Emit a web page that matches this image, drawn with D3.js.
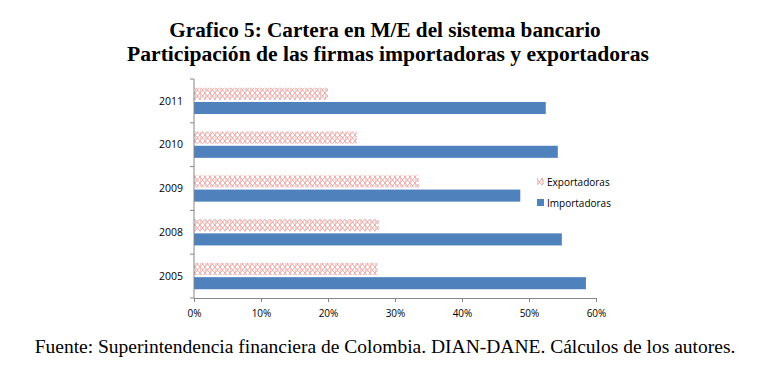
<!DOCTYPE html>
<html><head><meta charset="utf-8">
<script src="https://cdn.jsdelivr.net/npm/d3@7"></script>
<style>body{margin:0;background:#fff}</style>
</head><body><div id="chart"></div>
<script>
const categories = ["2011","2010","2009","2008","2005"];
const exportadoras = [0.200, 0.243, 0.336, 0.276, 0.274];
const importadoras = [0.525, 0.543, 0.487, 0.549, 0.585];
const seriesNames = ["Exportadoras","Importadoras"];
const xTicks = [0,0.1,0.2,0.3,0.4,0.5,0.6];
const titleLines = ["Grafico 5: Cartera en M/E del sistema bancario","Participación de las firmas importadoras y exportadoras"];
const source = "Fuente: Superintendencia financiera de Colombia. DIAN-DANE. Cálculos de los autores.";

const W=764,H=372;
const svg=d3.select("#chart").append("svg").attr("width",W).attr("height",H);
const defs=svg.append("defs");
const pat=defs.append("pattern").attr("id","hatch").attr("patternUnits","userSpaceOnUse")
  .attr("width",5).attr("height",6);
pat.append("rect").attr("width",5).attr("height",6).attr("fill","#fff");
pat.append("path").attr("d","M2.5,0 L5,3 L2.5,6 L0,3 Z").attr("fill","none").attr("stroke","#e58a88").attr("stroke-width",0.8);
pat.append("line").attr("x1",0.4).attr("x2",0.4).attr("y1",0).attr("y2",6).attr("stroke","#f0b8b6").attr("stroke-width",0.8);

const pLeft=194,pRight=596,pTop=79,pBottom=298;
const x=d3.scaleLinear().domain([0,0.6]).range([pLeft,pRight]);
const y=d3.scaleBand().domain(categories).range([pTop,pBottom]).paddingInner(0.4).paddingOuter(0.2);
const sub=d3.scaleBand().domain(seriesNames).range([0,y.bandwidth()]).paddingInner(0.15);

// titles
svg.selectAll("text.title").data(titleLines).join("text").attr("class","title")
  .attr("x",(d,i)=>i===0?385:388).attr("y",(d,i)=>37+i*24).attr("text-anchor","middle")
  .attr("font-family","Liberation Serif").attr("font-weight","bold").attr("font-size",(d,i)=>i===0?21.2:21.6)
  .attr("fill","#000").text(d=>d);

// bars
const g=svg.append("g");
g.selectAll("rect.exp").data(categories).join("rect").attr("class","exp")
  .attr("x",x(0)).attr("y",(d)=>y(d)+sub("Exportadoras"))
  .attr("width",(d,i)=>x(exportadoras[i])-x(0)).attr("height",sub.bandwidth())
  .attr("fill","url(#hatch)");
g.selectAll("rect.imp").data(categories).join("rect").attr("class","imp")
  .attr("x",x(0)).attr("y",(d)=>y(d)+sub("Importadoras"))
  .attr("width",(d,i)=>x(importadoras[i])-x(0)).attr("height",sub.bandwidth())
  .attr("fill","#4f81bd");

// axes
const axisColor="#868686";
const xa=svg.append("g").attr("transform",`translate(0,${pBottom})`)
  .call(d3.axisBottom(x).tickValues(xTicks).tickFormat(d3.format(".0%")).tickSize(4).tickSizeOuter(0));
xa.select(".domain").attr("stroke",axisColor);
xa.selectAll(".tick line").attr("stroke",axisColor);
xa.selectAll("text").attr("font-family","Open Sans").attr("font-size",10).attr("fill","#000").attr("dy","1.2em");

const ya=svg.append("g").attr("transform",`translate(${pLeft},0)`);
ya.append("line").attr("x1",0).attr("x2",0).attr("y1",pTop).attr("y2",pBottom).attr("stroke",axisColor);
const bounds=categories.map(c=>y(c)-y.step()*y.paddingInner()/2).concat([pBottom]);
ya.selectAll("line.t").data(bounds).join("line").attr("class","t")
  .attr("x1",-4).attr("x2",0).attr("y1",d=>d).attr("y2",d=>d).attr("stroke",axisColor);
ya.selectAll("text").data(categories).join("text")
  .attr("x",-11).attr("y",d=>y(d)+y.bandwidth()/2).attr("dy","0.35em")
  .attr("text-anchor","end").attr("font-family","Open Sans").attr("font-size",10.5).attr("fill","#000").text(d=>d);

// legend
const lg=svg.append("g").attr("transform","translate(537,182)");
const items=lg.selectAll("g").data(seriesNames).join("g").attr("transform",(d,i)=>`translate(0,${i*21})`);
items.append("rect").attr("x",0).attr("y",-4).attr("width",7).attr("height",7)
  .attr("fill",(d,i)=>i===0?"url(#hatch)":"#4f81bd");
items.append("text").attr("x",10).attr("y",0).attr("dy","0.35em")
  .attr("font-family","Open Sans").attr("font-size",10).attr("fill","#000").text(d=>d);

// source
svg.append("text").attr("x",385).attr("y",353).attr("text-anchor","middle")
  .attr("font-family","Liberation Serif").attr("font-size",19.5).attr("fill","#000").text(source);
</script></body></html>
